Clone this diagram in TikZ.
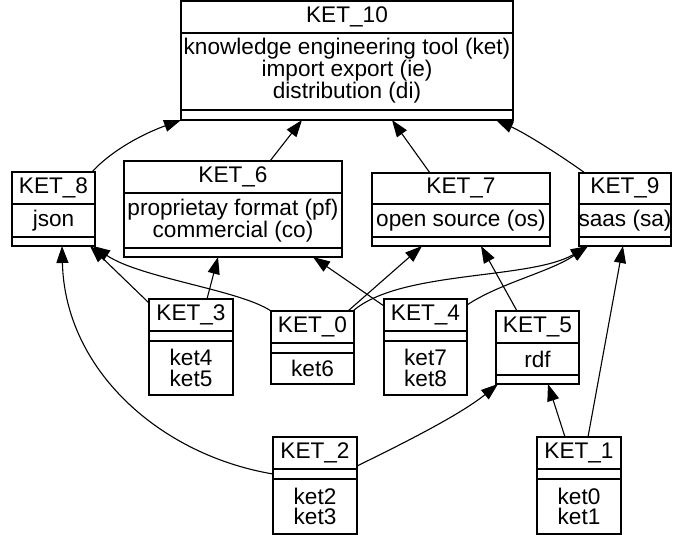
\documentclass[tikz,border=0pt]{standalone}
\usepackage{fontspec}
\setmainfont{Liberation Sans}
\usetikzlibrary{arrows.meta}
\begin{document}
\begin{tikzpicture}[x=1pt,y=-1pt,
  box/.style={draw,rectangle,line width=1.3pt,inner sep=0pt,outer sep=0pt,anchor=north west},
  txt/.style={inner sep=0pt,align=center,font=\fontsize{22.6}{20.8}\selectfont},
  sep/.style={line width=1.3pt},
  edge/.style={line width=1.1pt,-{Triangle[length=17pt,width=12pt]}}]
\useasboundingbox (0,0) rectangle (673,535);
% boxes: left, top, width, height
\node[box,minimum width=332pt,minimum height=119pt] (k10) at (181,1) {};
\node[box,minimum width=83pt,minimum height=74pt] (k8) at (12,172) {};
\node[box,minimum width=218pt,minimum height=96pt] (k6) at (124,161) {};
\node[box,minimum width=178pt,minimum height=73pt] (k7) at (372,173) {};
\node[box,minimum width=92pt,minimum height=73pt] (k9) at (579,173) {};
\node[box,minimum width=84pt,minimum height=96pt] (k3) at (149,299) {};
\node[box,minimum width=83pt,minimum height=73pt] (k0) at (271,311) {};
\node[box,minimum width=83pt,minimum height=96pt] (k4) at (384,299) {};
\node[box,minimum width=83pt,minimum height=73pt] (k5) at (496,311) {};
\node[box,minimum width=84pt,minimum height=97pt] (k2) at (273,437) {};
\node[box,minimum width=84pt,minimum height=97pt] (k1) at (537,437) {};
% separators
\draw[sep] (181,33) -- (513,33) (181,110) -- (513,110);
\draw[sep] (12,204) -- (95,204) (12,237) -- (95,237);
\draw[sep] (124,193) -- (342,193) (124,248) -- (342,248);
\draw[sep] (372,204) -- (550,204) (372,237) -- (550,237);
\draw[sep] (579,204) -- (671,204) (579,237) -- (671,237);
\draw[sep] (149,331) -- (233,331) (149,341) -- (233,341);
\draw[sep] (271,343) -- (354,343) (271,353) -- (354,353);
\draw[sep] (384,331) -- (467,331) (384,341) -- (467,341);
\draw[sep] (496,343) -- (579,343) (496,375) -- (579,375);
\draw[sep] (273,469) -- (357,469) (273,479) -- (357,479);
\draw[sep] (537,469) -- (621,469) (537,479) -- (621,479);
% texts
\node[txt] (t10) at (347,17) {KET\_10};
\node[txt] (a10) at (347,70.5) {knowledge engineering tool (ket)\\import export (ie)\\distribution (di)};
\node[txt] (t8) at (53.5,188) {KET\_8};
\node[txt] (a8) at (53.5,220.5) {json};
\node[txt] (t6) at (233,177) {KET\_6};
\node[txt] (a6) at (233,220.5) {proprietay format (pf)\\commercial (co)};
\node[txt] (t7) at (461,188) {KET\_7};
\node[txt] (a7) at (461,220.5) {open source (os)};
\node[txt] (t9) at (625,188) {KET\_9};
\node[txt] (a9) at (625,220.5) {saas (sa)};
\node[txt] (t3) at (191,315) {KET\_3};
\node[txt] (m3) at (191,368) {ket4\\ket5};
\node[txt] (t0) at (312.5,327) {KET\_0};
\node[txt] (m0) at (312.5,368.5) {ket6};
\node[txt] (t4) at (425.5,315) {KET\_4};
\node[txt] (m4) at (425.5,368) {ket7\\ket8};
\node[txt] (t5) at (537.5,327) {KET\_5};
\node[txt] (a5) at (537.5,359) {rdf};
\node[txt] (t2) at (315,453) {KET\_2};
\node[txt] (m2) at (315,506.5) {ket2\\ket3};
\node[txt] (t1) at (579,453) {KET\_1};
\node[txt] (m1) at (579,506.5) {ket0\\ket1};
% edges
\draw[edge] ([xshift=-3pt]k8.north east) .. controls +(18,-20) and +(-41,15) .. (k10.south west);
\draw[edge] ([xshift=146pt]k6.north west) -- ([xshift=121pt]k10.south west);
\draw[edge] ([xshift=58pt]k7.north west) -- ([xshift=211pt]k10.south west);
\draw[edge] ([xshift=6pt]k9.north west) .. controls +(-25,-18) and +(29,13) .. ([xshift=-17pt]k10.south east);
\draw[edge] ([yshift=-4pt]k3.north west) -- ([xshift=-5pt]k8.south east);
\draw[edge] ([xshift=58pt]k3.north west) -- ([xshift=94pt]k6.south west);
\draw[edge] (k0.north west) .. controls +(-31,-21) and +(47,32) .. ([xshift=-2pt]k8.south east);
\draw[edge] ([xshift=-6pt]k0.north east) -- ([xshift=50pt]k7.south west);
\draw[edge] ([xshift=-1pt]k0.north east) .. controls +(47,-41) and +(-58,34) .. ([xshift=9pt]k9.south west);
\draw[edge] ([yshift=-7pt]k4.north west) -- ([xshift=189pt]k6.south west);
\draw[edge] ([yshift=-6pt]k4.north east) .. controls +(33,-22) and +(-38,26) .. ([xshift=9pt]k9.south west);
\draw[edge] ([xshift=21pt]k5.north west) -- ([xshift=109pt]k7.south west);
\draw[edge] ([xshift=28pt]k1.north west) -- ([xshift=52pt]k5.south west);
\draw[edge] ([xshift=51pt]k1.north west) -- ([xshift=44pt]k9.south west);
\draw[edge] ([yshift=-29pt]k2.north east) .. controls +(43,-21) and +(-38,31) .. ([xshift=2pt]k5.south west);
\draw[edge] ([yshift=-37pt]k2.north west) .. controls +(-113,-19) and +(3,124) .. ([xshift=50pt]k8.south west);
\end{tikzpicture}
\end{document}
